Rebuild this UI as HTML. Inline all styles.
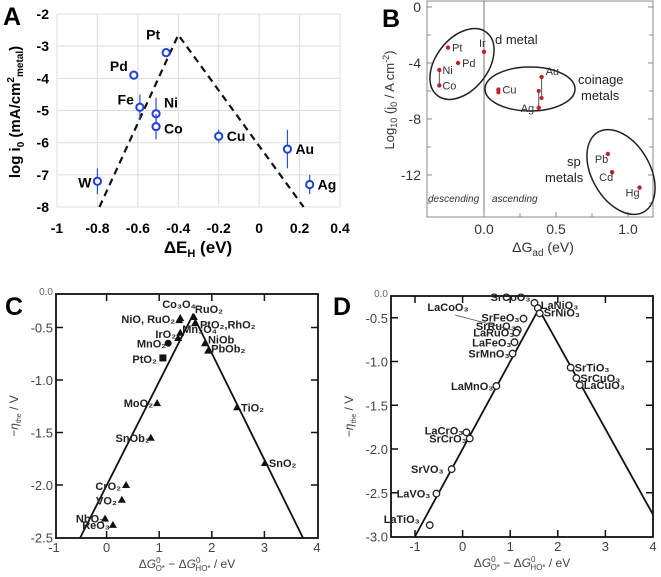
<!DOCTYPE html>
<html><head><meta charset="utf-8">
<style>
html,body{margin:0;padding:0;background:#fff;}
svg{display:block;font-family:"Liberation Sans",Arial,sans-serif;}
</style></head>
<body>
<svg id="fig" width="661" height="577" viewBox="0 0 661 577" xmlns="http://www.w3.org/2000/svg">
</svg>
<script>
// ---------- Panel A data ----------
const aMetals = ["W","Pd","Pt","Fe","Ni","Co","Cu","Au","Ag"];
const aDeltaE = [-0.80,-0.62,-0.46,-0.59,-0.51,-0.51,-0.20,0.14,0.25];
const aLogI0 = [-7.2,-3.9,-3.2,-4.9,-5.1,-5.5,-5.8,-6.2,-7.3];
const aErr = [0.4,0,0,0.4,0.5,0.4,0.2,0.6,0.3];
const aVolcanoX = [-0.79,-0.40,0.22];
const aVolcanoY = [-8,-2.65,-8];
const aXTicks = [-1,-0.8,-0.6,-0.4,-0.2,0,0.2,0.4];
const aXTickLabels = ["-1","-0.8","-0.6","-0.4","-0.2","0","0.2","0.4"];
const aYTicks = [-2,-3,-4,-5,-6,-7,-8];
// ---------- Panel B data ----------
const bMetals = ["Pt","Pd","Ir","Ni","Co","Cu","Au","Ag","Pb","Cd","Hg"];
const bDeltaG = [-0.25,-0.18,0.0,-0.31,-0.31,0.10,0.40,0.38,0.86,0.89,1.08];
const bLogJ0 = [-2.9,-4.0,-3.2,-4.5,-5.6,-5.9,-5.0,-7.2,-10.5,-11.8,-12.9];
const bBarLo = [null,null,null,-5.6,null,-6.1,-6.5,-6.0,null,null,null];
const bXTicks = [0,0.5,1.0];
const bXTickLabels = ["0.0","0.5","1.0"];
const bYTicks = [0,-4,-8,-12];
// ---------- Panel C data ----------
const cOxides = ["Co3O4","NiO, RuO2","RuO2","PtO2","Mn3O4","IrO2","MnO2","PtO2b","NiOb","PbOb2","MoO2","SnOb2","TiO2","SnO2","CrO2","VO2","NbO2","ReO3"];
const cDeltaG = [1.40,1.38,1.66,1.68,1.40,1.36,1.17,1.07,1.87,1.93,0.96,0.84,2.48,3.01,0.37,0.29,-0.03,0.12];
const cEta = [-0.41,-0.43,-0.40,-0.46,-0.55,-0.60,-0.65,-0.79,-0.65,-0.72,-1.22,-1.55,-1.26,-1.79,-2.00,-2.14,-2.32,-2.38];
const cVolcanoX = [-0.5,1.64,3.73];
const cVolcanoY = [-2.5,-0.38,-2.5];
const cXTicks = [-1,0,1,2,3,4];
const cYTicks = [-0.5,-1.0,-1.5,-2.0,-2.5];
// ---------- Panel D data ----------
const dOxides = ["SrCoO3","LaNiO3","SrNiO3","SrFeO3","SrRuO3","LaRuO3","LaFeO3","SrMnO3","LaMnO3","SrTiO3","SrCuO3","LaCuO3","LaCrO3","SrCrO3","SrVO3","LaVO3","LaTiO3"];
const dDeltaG = [1.51,1.58,1.62,1.28,1.16,1.13,1.09,1.05,0.71,2.27,2.39,2.46,0.08,0.15,-0.23,-0.55,-0.69];
const dEta = [-0.33,-0.39,-0.45,-0.51,-0.64,-0.67,-0.78,-0.91,-1.28,-1.07,-1.19,-1.27,-1.81,-1.88,-2.23,-2.51,-2.87];
const dVolcanoX = [-1.0,1.6,4.0];
const dVolcanoY = [-3.0,-0.4,-2.75];
const dXTicks = [-1,0,1,2,3,4];
const dYTicks = [-0.5,-1.0,-1.5,-2.0,-2.5,-3.0];

const NS="http://www.w3.org/2000/svg";
const svg=document.getElementById('fig');
function mk(tag,attrs,parent,txt){const e=document.createElementNS(NS,tag);for(const k in attrs)e.setAttribute(k,attrs[k]);if(txt!==undefined)e.textContent=txt;(parent||svg).appendChild(e);return e;}
function lin(d0,d1,p0,p1){return v=>p0+(v-d0)*(p1-p0)/(d1-d0);}
function grp(name){const g=mk('g',{});return g;}

// ================= Panel A =================
(function(){
const g=grp('panel-a');
const X=lin(-1,0.4,57,340), Y=lin(-2,-8,14,207);
aXTicks.forEach(v=>{const l=mk('line',{x1:X(v),x2:X(v),y1:14,y2:207,stroke:'#ddd','stroke-width':1},g);});
aYTicks.forEach(v=>{const l=mk('line',{x1:57,x2:340,y1:Y(v),y2:Y(v),stroke:'#ddd','stroke-width':1},g);});
aXTicks.forEach((v,i)=>{const t=mk('text',{x:X(v),y:233,'text-anchor':'middle','font-size':14,'font-weight':'bold'},g,aXTickLabels[i]);});
aYTicks.forEach(v=>{const t=mk('text',{x:49,y:Y(v)+5,'text-anchor':'end','font-size':14,'font-weight':'bold'},g,String(v));});
const pl=mk('polyline',{points:aVolcanoX.map((x,i)=>X(x)+','+Y(aVolcanoY[i])).join(' '),fill:'none',stroke:'#111','stroke-width':2.2,'stroke-dasharray':'7,5'},g);


const lblDx=[-24,-32,-15,-22,8,8,8,8,8];
const lblDy=[6,-4,-13,-3,-6,7,5,5,5];
const lblAnchor=['end','end','start','end','start','start','start','start','start'];
aMetals.forEach((m,i)=>{
 const cx=X(aDeltaE[i]),cy=Y(aLogI0[i]);
 if(aErr[i]>0){const e=mk('line',{x1:cx,x2:cx,y1:Y(aLogI0[i]+aErr[i]),y2:Y(aLogI0[i]-aErr[i]),stroke:'#3050c8','stroke-width':1.2},g);}
 const c=mk('circle',{cx:cx,cy:cy,r:3.6,fill:'#fff',stroke:'#2040d0','stroke-width':2},g);
 
 
 let tx=lblAnchor[i]==='end'?cx-6:cx+lblDx[i];
 if(m==='Pt')tx=cx-20;
 const t=mk('text',{x:tx,y:cy+lblDy[i],'text-anchor':m==='Pt'?'start':lblAnchor[i],'font-size':14,'font-weight':'bold'},g,m);
 
 
});
const yt=mk('text',{transform:'translate(20,112) rotate(-90)','text-anchor':'middle','font-size':15,'font-weight':'bold'},g);


yt.innerHTML='log i<tspan font-size="10" dy="4">0</tspan><tspan dy="-4"> (mA/cm</tspan><tspan font-size="10" dy="-6">2</tspan><tspan font-size="10" dy="9">metal</tspan><tspan dy="-3">)</tspan>';
const xt=mk('text',{x:198,y:253,'text-anchor':'middle','font-size':17,'font-weight':'bold'},g);


xt.innerHTML='ΔE<tspan font-size="11" dy="4">H</tspan><tspan dy="-4"> (eV)</tspan>';
const pa=mk('text',{x:3,y:25,'font-size':25,'font-weight':'bold'},g,'A');


})();

// ================= Panel B =================
(function(){
const g=grp('panel-b');
const X=lin(0,1.0,484,628), Y=lin(0,-12,7,175);
const fr=mk('rect',{x:427,y:1,width:226,height:216,fill:'none',stroke:'#888','stroke-width':1},g);


const vl=mk('line',{x1:484,x2:484,y1:1,y2:217,stroke:'#777','stroke-width':1},g);


bXTicks.forEach((v,i)=>{mk('line',{x1:X(v),x2:X(v),y1:217,y2:212,stroke:'#888'},g);const t=mk('text',{x:X(v),y:234,'text-anchor':'middle','font-size':14,fill:'#333'},g,bXTickLabels[i]);});
[0.25,0.75].forEach(v=>mk('line',{x1:X(v),x2:X(v),y1:217,y2:213,stroke:'#888'},g));
bYTicks.forEach(v=>{mk('line',{x1:427,x2:432,y1:Y(v),y2:Y(v),stroke:'#888'},g);mk('line',{x1:653,x2:648,y1:Y(v),y2:Y(v),stroke:'#888'},g);const t=mk('text',{x:421,y:Y(v)+5,'text-anchor':'end','font-size':14,fill:'#333'},g,String(v));});
[-2,-6,-10,-14].forEach(v=>{mk('line',{x1:427,x2:431,y1:Y(v),y2:Y(v),stroke:'#888'},g);mk('line',{x1:653,x2:649,y1:Y(v),y2:Y(v),stroke:'#888'},g);});
[['b-ellipse-d-metal',462,64,40,26,-52],['b-ellipse-coinage',530,89,45,22,0],['b-ellipse-sp',621,172,29,46,-30]].forEach(e=>{
 const el=mk('ellipse',{cx:0,cy:0,rx:e[3],ry:e[4],fill:'none',stroke:'#222','stroke-width':1.5,transform:`translate(${e[1]},${e[2]}) rotate(${e[5]})`},g);
 
 
});
const lbdx=[4,4,-5,3,3,4,4,-18,-13,-13,-14];
const lbdy=[4,4,-5,4,4,4,-2,4,9,9,9];
bMetals.forEach((m,i)=>{
 const cx=X(bDeltaG[i]),cy=Y(bLogJ0[i]);
 if(bBarLo[i]!==null){const l=mk('line',{x1:cx,x2:cx,y1:cy,y2:Y(bBarLo[i]),stroke:'#555','stroke-width':1},g);
  const c2=mk('circle',{cx:cx,cy:Y(bBarLo[i]),r:2,fill:'#c0202a'},g);}
 const c=mk('circle',{cx:cx,cy:cy,r:2.2,fill:'#c0202a'},g);
 
 
 const t=mk('text',{x:cx+lbdx[i],y:cy+lbdy[i],'font-size':11,fill:'#333'},g,m);
 
 
});
[['d metal',495,44,'start'],['coinage',578,84,'start'],['metals',581,100,'start'],['sp',567,166,'start'],['metals',545,182,'start']].forEach(a=>{const t=mk('text',{x:a[1],y:a[2],'font-size':13,fill:'#222'},g,a[0]);});
const d1=mk('text',{x:428,y:202,'font-size':10,'font-style':'italic',fill:'#333'},g,'descending');


const d2=mk('text',{x:492,y:202,'font-size':10,'font-style':'italic',fill:'#333'},g,'ascending');


const yt=mk('text',{transform:'translate(394,100) rotate(-90)','text-anchor':'middle','font-size':13,fill:'#333'},g);


yt.innerHTML='Log<tspan font-size="9" dy="3">10</tspan><tspan dy="-3"> (j</tspan><tspan font-size="9" dy="3">0</tspan><tspan dy="-3"> / A cm</tspan><tspan font-size="9" dy="-5">-2</tspan><tspan dy="5">)</tspan>';
const xt=mk('text',{x:543,y:252,'text-anchor':'middle','font-size':14,fill:'#333'},g);


xt.innerHTML='ΔG<tspan font-size="10" dy="4">ad</tspan><tspan dy="-4"> (eV)</tspan>';
const pb=mk('text',{x:382,y:27,'font-size':25,'font-weight':'bold'},g,'B');


})();

function volcanoPanel(o){
 const g=grp(o.name);
 const X=lin(o.x0,o.x1,o.px0,o.px1), Y=lin(0,-1,o.py0,o.py0+o.pyu);
 const fr=mk('rect',{x:o.L,y:o.T,width:o.R-o.L,height:o.B-o.T,fill:'none',stroke:'#111','stroke-width':1.8},g);
 
 
 o.xt.forEach(v=>{const px=X(v);if(px>o.L+2&&px<o.R-2){mk('line',{x1:px,x2:px,y1:o.B,y2:o.B-7,stroke:'#111','stroke-width':1.5},g);mk('line',{x1:px,x2:px,y1:o.T,y2:o.T+7,stroke:'#111','stroke-width':1.5},g);}
  const t=mk('text',{x:px,y:o.B+14,'text-anchor':'middle','font-size':13,fill:'#444'},g,String(v));});
 o.yt.forEach(v=>{const py=Y(v);if(py<o.B-2){mk('line',{x1:o.L,x2:o.L+7,y1:py,y2:py,stroke:'#111','stroke-width':1.5},g);mk('line',{x1:o.R,x2:o.R-7,y1:py,y2:py,stroke:'#111','stroke-width':1.5},g);}
  const t=mk('text',{x:o.L-3,y:py+5,'text-anchor':'end','font-size':13,fill:'#444'},g,v.toFixed(1));});
 const z=mk('text',{x:o.L-3,y:o.T+1,'text-anchor':'end','font-size':10,fill:'#666'},g,'0.0');
 
 
 const cp=mk('clipPath',{id:o.pre+'clip'},g);mk('rect',{x:o.L,y:o.T,width:o.R-o.L,height:o.B-o.T},cp);
 const pl=mk('polyline',{points:o.vx.map((x,i)=>X(x)+','+Y(o.vy[i])).join(' '),fill:'none',stroke:'#111','stroke-width':1.8,'clip-path':`url(#${o.pre}clip)`},g);
 
 
 const yt=mk('text',{transform:`translate(${o.L-38},${(o.T+o.B)/2}) rotate(-90)`,'text-anchor':'middle','font-size':12,fill:'#444'},g);
 
 
 yt.innerHTML='−<tspan font-style="italic">η</tspan><tspan font-size="7" dy="3">the</tspan><tspan dy="-3"> / V</tspan>';
 const xt=mk('text',{x:(o.L+o.R)/2,y:o.B+30,'text-anchor':'middle','font-size':12,fill:'#444'},g);
 
 
 xt.innerHTML='Δ<tspan font-style="italic">G</tspan><tspan font-size="8" dy="-5">0</tspan><tspan font-size="8" dx="-5" dy="8">O*</tspan><tspan dy="-3"> − Δ</tspan><tspan font-style="italic">G</tspan><tspan font-size="8" dy="-5">0</tspan><tspan font-size="8" dx="-5" dy="8">HO*</tspan><tspan dy="-3"> / eV</tspan>';
 const pl2=mk('text',{x:o.lx,y:o.ly,'font-size':25,'font-weight':'bold'},g,o.label);
 
 
 return {g,X,Y};
}

(function(){
const p=volcanoPanel({name:'panel-c',pre:'c',x0:-1,x1:4,px0:54,px1:317,py0:275,pyu:105,L:56,R:318,T:294,B:538,xt:cXTicks,yt:cYTicks,vx:cVolcanoX,vy:cVolcanoY,label:'C',lx:5,ly:315});
const markers=['tri','tri','tri','tri','tri','tri','circ','sq','tri','tri','tri','tri','tri','tri','tri','tri','tri','tri'];
const lab=[['Co₃O₄',-18,-10,'start'],['NiO, RuO₂',-4,3,'end'],['RuO₂',1,-4,'start'],['PtO₂,RhO₂',5,5,'start'],['Mn₃O₄',2,0,'start'],['IrO₂',-2,0,'end'],['MnO₂',-2,4,'end'],['PtO₂',-6,5,'end'],['NiOb',3,0,'start'],['PbOb₂',3,2,'start'],['MoO₂',-4,4,'end'],['SnOb₂',-1,4,'end'],['TiO₂',4,4,'start'],['SnO₂',4,4,'start'],['CrO₂',-5,5,'end'],['VO₂',-5,5,'end'],['NbO₂',-1,4,'end'],['ReO₃',-3,4,'end']];
cOxides.forEach((n,i)=>{
 const cx=p.X(cDeltaG[i]),cy=p.Y(cEta[i]);let m;
 if(markers[i]==='tri')m=mk('polygon',{points:`${cx},${cy-4} ${cx-4},${cy+3} ${cx+4},${cy+3}`,fill:'#111'},p.g);
 else if(markers[i]==='circ')m=mk('circle',{cx:cx,cy:cy,r:3.5,fill:'#111'},p.g);
 else m=mk('rect',{x:cx-3.5,y:cy-3.5,width:7,height:7,fill:'#111'},p.g);
 
 
 const L=lab[i];const t=mk('text',{x:cx+L[1],y:cy+L[2],'text-anchor':L[3],'font-size':11,'font-weight':'bold',fill:'#222'},p.g,L[0]);
 
 
});
})();

(function(){
const p=volcanoPanel({name:'panel-d',pre:'d',x0:-1,x1:4,px0:415,px1:653,py0:274,pyu:87.5,L:391,R:653,T:296,B:537,xt:dXTicks,yt:dYTicks,vx:dVolcanoX,vy:dVolcanoY,label:'D',lx:333,ly:315});
const lab=[['SrCoO₃',-4,-2,'end'],['LaNiO₃',3,1,'start'],['SrNiO₃',4,3,'start'],['SrFeO₃',-4,3,'end'],['SrRuO₃',-2,0,'end'],['LaRuO₃',-2,4,'end'],['LaFeO₃',-3,4,'end'],['SrMnO₃',-3,4,'end'],['LaMnO₃',-3,4,'end'],['SrTiO₃',4,4,'start'],['SrCuO₃',4,4,'start'],['LaCuO₃',4,4,'start'],['LaCrO₃',-3,2,'end'],['SrCrO₃',-3,4,'end'],['SrVO₃',-8,4,'end'],['LaVO₃',-6,4,'end'],['LaTiO₃',-10,-2,'end']];
dOxides.forEach((n,i)=>{
 const cx=p.X(dDeltaG[i]),cy=p.Y(dEta[i]);
 const m=mk('circle',{cx:cx,cy:cy,r:3.3,fill:'#fff',stroke:'#222','stroke-width':1.3},p.g);
 
 
 const L=lab[i];const t=mk('text',{x:cx+L[1],y:cy+L[2],'text-anchor':L[3],'font-size':11,'font-weight':'bold',fill:'#222'},p.g,L[0]);
 
 
});
const lc=mk('text',{x:448,y:311,'text-anchor':'middle','font-size':11,'font-weight':'bold',fill:'#222'},p.g,'LaCoO₃');


mk('line',{x1:455,y1:315,x2:512,y2:330,stroke:'#555','stroke-width':0.8},p.g);
})();
</script>
</body></html>
